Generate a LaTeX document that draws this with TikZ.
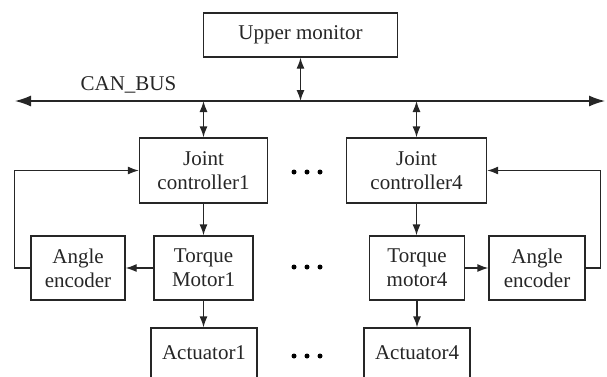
\documentclass[tikz,border=0pt]{standalone}
\usepackage{fontspec}
\setmainfont{Liberation Serif}
\usetikzlibrary{arrows.meta}
\begin{document}
\begin{tikzpicture}[x=1pt,y=-1pt,
  box/.style={draw=black!85,line width=1.3pt,fill=white,align=center,inner sep=0pt,
    font=\fontsize{21}{24}\selectfont,text=black!85},
  conn/.style={draw=black!85,line width=1.3pt,-{Latex[length=11pt,width=8pt]}},
  biconn/.style={draw=black!85,line width=1.3pt,{Latex[length=11pt,width=8pt]}-{Latex[length=11pt,width=8pt]}},
  busline/.style={draw=black!85,line width=1.3pt,{Latex[length=16pt,width=11pt]}-{Latex[length=16pt,width=11pt]}},
  dot/.style={fill=black}]
\useasboundingbox (0,0) rectangle (607,376);
\node[box,minimum width=194pt,minimum height=44pt] (up) at (300.5,35) {Upper monitor};
\coordinate (busL) at (15,101);
\coordinate (busR) at (605,101);
\draw[busline] (busL) -- (busR);
\node[font=\fontsize{21}{24}\selectfont,text=black!85,inner sep=0pt] (canlbl) at (128.5,85) {CAN\_BUS};
\node[box,minimum width=128pt,minimum height=65pt] (jc1) at (203.5,170.5) {Joint\\controller1};
\node[box,minimum width=140pt,minimum height=65pt] (jc4) at (416.5,170.5) {Joint\\controller4};
\node[box,minimum width=99pt,minimum height=64pt] (tm1) at (203.5,268) {Torque\\Motor1};
\node[box,minimum width=94pt,minimum height=64pt] (ae1) at (78,268) {Angle\\encoder};
\node[box,minimum width=95pt,minimum height=64pt] (tm4) at (417,268) {Torque\\motor4};
\node[box,minimum width=96pt,minimum height=64pt] (ae4) at (537,268) {Angle\\encoder};
\node[box,minimum width=106pt,minimum height=50pt] (ac1) at (204,353) {Actuator1};
\node[box,minimum width=106pt,minimum height=50pt] (ac4) at (417,353) {Actuator4};
% bus connections
\draw[biconn] (up.south) -- (up.south |- busL);
\draw[biconn] (jc1.north |- busL) -- (jc1.north);
\draw[biconn] (jc4.north |- busL) -- (jc4.north);
% chain
\draw[conn] (jc1.south) -- (jc1.south |- tm1.north);
\draw[conn] (tm1.south) -- (tm1.south |- ac1.north);
\draw[conn] (jc4.south) -- (jc4.south |- tm4.north);
\draw[conn] (tm4.south) -- (tm4.south |- ac4.north);
\draw[conn] (tm1.west) -- (ae1.east);
\draw[conn] (tm4.east) -- (ae4.east -| ae4.west);
% feedback
\draw[conn] (ae1.west) -- ++(-16,0) |- (jc1.west);
\draw[conn] (ae4.east) -- ++(15,0) |- (jc4.east);
% dots
\foreach \yy in {172,267,356}{
  \fill[dot] (294,\yy) circle (2.5pt);
  \fill[dot] (307,\yy) circle (2.5pt);
  \fill[dot] (320,\yy) circle (2.5pt);
}
\end{tikzpicture}
\end{document}
